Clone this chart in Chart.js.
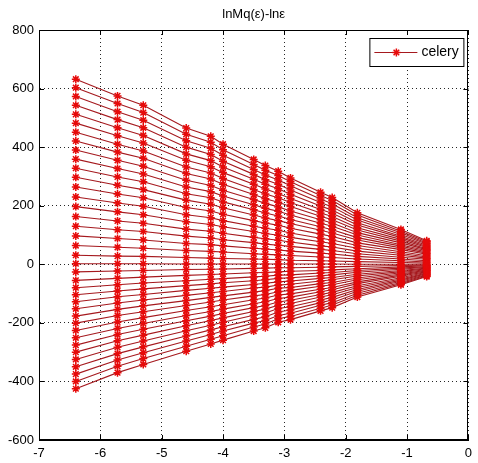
<!DOCTYPE html>
<html>
<head>
<meta charset="utf-8">
<script src="https://cdn.jsdelivr.net/npm/chart.js@4.4.0/dist/chart.umd.min.js"></script>
<style>
  html, body { margin: 0; padding: 0; background: #fff; }
  #wrap { width: 478px; height: 463px; }
</style>
</head>
<body>
<div id="wrap"><canvas id="mqChart" width="478" height="463"></canvas></div>
<script>
// Datos: lnMq(eps) frente a ln(eps)
const chartTitle = 'lnMq(ε)-lnε';
const seriesLabel = 'celery';
const lnEps = [-6.40, -5.72, -5.30, -4.60, -4.20, -4.00, -3.50, -3.31, -3.10, -2.90, -2.41, -2.22, -1.81, -1.10, -0.68];
const xTicks = [-7, -6, -5, -4, -3, -2, -1, 0];
const yTicks = [-600, -400, -200, 0, 200, 400, 600, 800];

// una fila por cada q (de arriba a abajo)
const lnMq = [
  [632, 575, 543, 465, 437, 410, 358, 337, 318, 295, 246, 228, 176, 119, 80],
  [603, 549, 518, 444, 417, 391, 341, 321, 303, 282, 235, 218, 168, 113, 77],
  [573, 521, 492, 422, 396, 372, 324, 305, 288, 268, 223, 207, 159, 108, 73],
  [543, 494, 466, 400, 375, 352, 307, 289, 273, 254, 211, 196, 151, 102, 69],
  [512, 466, 440, 377, 354, 332, 290, 273, 258, 239, 199, 185, 142, 96, 65],
  [482, 439, 414, 355, 333, 313, 273, 257, 242, 225, 187, 174, 134, 91, 61],
  [451, 410, 387, 332, 312, 293, 255, 240, 227, 211, 175, 163, 125, 85, 57],
  [421, 383, 362, 310, 291, 273, 238, 224, 212, 197, 164, 152, 117, 79, 53],
  [390, 355, 335, 287, 269, 253, 221, 208, 196, 182, 152, 141, 108, 73, 50],
  [359, 327, 308, 264, 248, 233, 203, 191, 181, 168, 140, 130, 100, 67, 46],
  [328, 298, 282, 241, 227, 213, 186, 175, 165, 153, 128, 118, 91, 62, 42],
  [297, 270, 255, 219, 205, 193, 168, 158, 149, 139, 116, 107, 83, 56, 38],
  [264, 240, 227, 194, 182, 171, 149, 141, 133, 123, 103, 95, 73, 50, 34],
  [230, 209, 198, 169, 159, 149, 130, 123, 116, 107, 89, 83, 64, 43, 29],
  [197, 179, 169, 145, 136, 128, 112, 105, 99, 92, 77, 71, 55, 37, 25],
  [163, 148, 140, 120, 113, 106, 92, 87, 82, 76, 63, 59, 45, 31, 21],
  [130, 118, 112, 96, 90, 84, 74, 69, 65, 61, 51, 47, 36, 24, 17],
  [97, 88, 83, 71, 67, 63, 55, 52, 49, 45, 38, 35, 27, 18, 12],
  [64, 58, 55, 47, 44, 42, 36, 34, 32, 30, 25, 23, 18, 12, 8],
  [31, 28, 27, 23, 21, 20, 18, 17, 16, 14, 12, 11, 9, 6, 4],
  [2, 2, 2, 1, 1, 1, 1, 1, 1, 1, 1, 1, 0, 0, 0],
  [-26, -23, -21, -18, -17, -16, -14, -13, -12, -12, -10, -9, -7, -4, -3],
  [-55, -48, -44, -38, -35, -33, -29, -28, -26, -24, -21, -19, -15, -9, -5],
  [-80, -70, -64, -56, -51, -49, -43, -41, -37, -36, -30, -28, -21, -13, -8],
  [-104, -91, -84, -73, -67, -63, -56, -53, -48, -46, -39, -36, -27, -17, -10],
  [-128, -111, -103, -89, -82, -78, -69, -65, -60, -57, -48, -45, -34, -21, -13],
  [-152, -132, -122, -106, -97, -93, -81, -78, -71, -68, -57, -53, -40, -25, -15],
  [-177, -154, -142, -124, -113, -108, -95, -90, -82, -79, -66, -62, -47, -29, -18],
  [-201, -175, -162, -141, -129, -122, -108, -103, -94, -89, -75, -70, -53, -33, -20],
  [-226, -197, -182, -158, -145, -138, -121, -115, -105, -101, -85, -79, -60, -37, -22],
  [-251, -219, -202, -175, -161, -153, -135, -128, -117, -112, -94, -87, -66, -41, -25],
  [-276, -240, -222, -193, -177, -168, -148, -141, -129, -123, -103, -96, -73, -46, -27],
  [-300, -261, -242, -210, -192, -183, -161, -153, -140, -134, -112, -104, -79, -50, -30],
  [-325, -283, -262, -227, -208, -198, -174, -166, -151, -145, -122, -113, -86, -54, -32],
  [-350, -305, -282, -245, -224, -213, -188, -179, -163, -156, -131, -122, -92, -58, -35],
  [-375, -327, -302, -262, -240, -228, -201, -192, -175, -167, -140, -131, -99, -62, -37],
  [-400, -348, -322, -280, -256, -244, -214, -204, -186, -178, -150, -139, -106, -66, -40],
  [-425, -370, -342, -297, -272, -259, -228, -217, -198, -189, -159, -148, -112, -70, -42]
];

const lineColor = 'rgb(165, 25, 30)';
const markColor = 'rgb(230, 10, 10)';
const fontFamily = '"Liberation Sans", Arial, sans-serif';

// caja negra completa y marcas hacia dentro, estilo matlab
const boxPlugin = {
  id: 'matlabBox',
  afterDatasetsDraw(chart) {
    const { ctx, chartArea: a, scales } = chart;
    ctx.save();
    ctx.strokeStyle = '#000';
    ctx.lineWidth = 1;
    ctx.setLineDash([]);
    ctx.strokeRect(Math.round(a.left) + 0.5, Math.round(a.top) + 0.5,
      Math.round(a.right - a.left) - 1, Math.round(a.bottom - a.top) - 1);
    const len = 5;
    ctx.beginPath();
    xTicks.forEach(v => {
      const px = Math.round(scales.x.getPixelForValue(v)) + 0.5;
      ctx.moveTo(px, a.bottom); ctx.lineTo(px, a.bottom - len);
      ctx.moveTo(px, a.top); ctx.lineTo(px, a.top + len);
    });
    yTicks.forEach(v => {
      const py = Math.round(scales.y.getPixelForValue(v)) + 0.5;
      ctx.moveTo(a.left, py); ctx.lineTo(a.left + len, py);
      ctx.moveTo(a.right, py); ctx.lineTo(a.right - len, py);
    });
    ctx.stroke();
    ctx.restore();
  },
  afterDraw(chart) {
    // leyenda dentro del area
    const { ctx, chartArea: a } = chart;
    const bx = a.right - 99, by = a.top + 8, bw = 94, bh = 28;
    ctx.save();
    ctx.fillStyle = '#fff';
    ctx.fillRect(bx, by, bw, bh);
    ctx.strokeStyle = '#000';
    ctx.lineWidth = 1;
    ctx.strokeRect(bx + 0.5, by + 0.5, bw, bh);
    const cy = by + bh / 2 + 0.5;
    ctx.strokeStyle = lineColor;
    ctx.beginPath();
    ctx.moveTo(bx + 5, cy); ctx.lineTo(bx + 48, cy);
    ctx.stroke();
    ctx.strokeStyle = markColor;
    ctx.lineWidth = 1.5;
    Chart.helpers.drawPoint(ctx, { pointStyle: 'star', radius: 4, borderWidth: 1.5 }, bx + 27, cy);
    ctx.fillStyle = '#000';
    ctx.font = '14px ' + fontFamily;
    ctx.textBaseline = 'middle';
    ctx.fillText(seriesLabel, bx + 52, cy);
    ctx.restore();
  }
};

document.addEventListener('DOMContentLoaded', function() {
  const ctx = document.getElementById('mqChart').getContext('2d');

  const datasets = lnMq.map((row, i) => ({
    label: i === 0 ? seriesLabel : '',
    data: row.map((v, j) => ({ x: lnEps[j], y: v })),
    borderColor: lineColor,
    borderWidth: 1.1,
    pointStyle: 'star',
    pointRadius: 4,
    pointBorderColor: markColor,
    pointBorderWidth: 1.5,
    pointBackgroundColor: markColor,
    fill: false,
    tension: 0
  }));

  new Chart(ctx, {
    type: 'line',
    data: { datasets },
    options: {
      responsive: false,
      animation: false,
      events: [],
      layout: { padding: { right: 3 } },
      plugins: {
        legend: { display: false },
        tooltip: { enabled: false },
        title: {
          display: true,
          text: chartTitle,
          fullSize: false,
          color: '#000',
          font: { family: fontFamily, size: 13, weight: 'normal' },
          padding: { top: 7, bottom: 7.4 }
        }
      },
      scales: {
        x: {
          type: 'linear',
          min: -7,
          max: 0,
          afterFit: s => { s.height = 23; },
          afterBuildTicks: s => { s.ticks = xTicks.map(v => ({ value: v })); },
          ticks: { color: '#000', padding: 6, font: { family: fontFamily, size: 13 } },
          grid: { color: 'rgba(0,0,0,0.85)', lineWidth: 1, drawTicks: false },
          border: { color: '#000', width: 1, dash: [1, 3] }
        },
        y: {
          type: 'linear',
          min: -600,
          max: 800,
          afterFit: s => { s.width = 39; },
          afterBuildTicks: s => { s.ticks = yTicks.map(v => ({ value: v })); },
          ticks: { color: '#000', padding: 5, font: { family: fontFamily, size: 13 } },
          grid: { color: 'rgba(0,0,0,0.85)', lineWidth: 1, drawTicks: false },
          border: { color: '#000', width: 1, dash: [1, 3] }
        }
      }
    },
    plugins: [boxPlugin]
  });
});
</script>
</body>
</html>
